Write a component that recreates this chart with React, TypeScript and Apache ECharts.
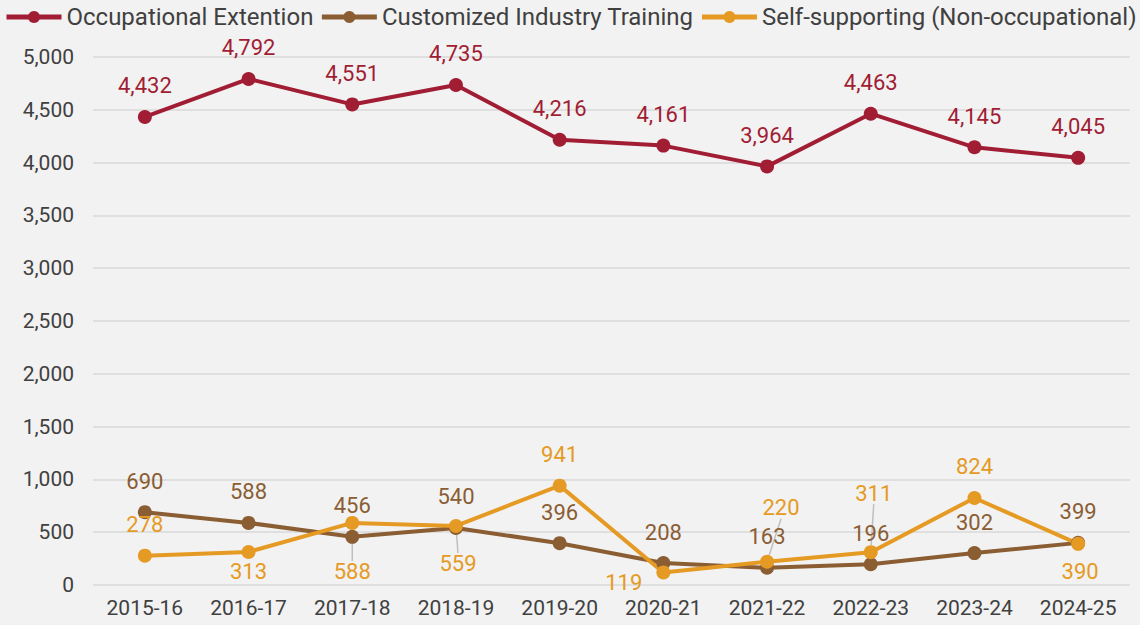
import React, { useEffect, useRef } from "react";
import * as echarts from "echarts";

const categories = ["2015-16", "2016-17", "2017-18", "2018-19", "2019-20", "2020-21", "2021-22", "2022-23", "2023-24", "2024-25"];
const occupational = [4432, 4792, 4551, 4735, 4216, 4161, 3964, 4463, 4145, 4045];
const customized = [690, 588, 456, 540, 396, 208, 163, 196, 302, 399];
const selfSupporting = [278, 313, 588, 559, 941, 119, 220, 311, 824, 390];
const yTicks = [0, 500, 1000, 1500, 2000, 2500, 3000, 3500, 4000, 4500, 5000];

const names = ["Occupational Extention", "Customized Industry Training", "Self-supporting (Non-occupational)"];
const colors = ["#A11D34", "#8A5D33", "#E59A24"];

// label placement for self-supporting points: [position, dx, dy, leaderLine]
const selfPlacement: [string, number, number, boolean][] = [
  ["top", 0, 0, false],
  ["bottom", 0, -2, false],
  ["bottom", 0, 27, true],
  ["bottom", 2, 16, true],
  ["top", 0, 0, false],
  ["left", -10, 10, false],
  ["top", 14, -23, true],
  ["top", 3, -28, true],
  ["top", 0, 0, false],
  ["bottom", 2, 6, false],
];

const FONT = "Roboto, 'Liberation Sans', Arial, sans-serif";
const fmt = (v: number) => v.toLocaleString("en-US");

export default function App() {
  const ref = useRef<HTMLDivElement>(null);
  useEffect(() => {
    if (!ref.current) return;
    const chart = echarts.init(ref.current, null, { renderer: "svg" });
    const mkSeries = (i: number, values: number[], placement?: [string, number, number, boolean][]) => ({
      name: names[i],
      type: "line",
      data: values.map((v, k) => {
        const p = placement ? placement[k] : null;
        return {
          value: v,
          label: p ? { position: p[0], distance: p[0] === "top" ? 13 : 4 } : undefined,
          labelLine: p && p[3] ? { show: true, lineStyle: { color: "#BFBFBF", width: 1.5 } } : { show: false },
        };
      }),
      symbol: "circle",
      symbolSize: 14,
      lineStyle: { width: 4, color: colors[i] },
      itemStyle: { color: colors[i] },
      label: {
        show: true,
        position: "top",
        distance: 13,
        color: colors[i],
        fontSize: 22,
        fontFamily: FONT,
        formatter: (p: any) => fmt(p.value),
      },
      labelLayout: placement
        ? (params: any) => {
            const p = placement[params.dataIndex];
            return { dx: p[1], dy: p[2] };
          }
        : undefined,
    });
    chart.setOption({
      animation: false,
      backgroundColor: "#F2F2F2",
      textStyle: { fontFamily: FONT },
      legend: {
        top: 5,
        left: 4,
        width: 1600,
        padding: 0,
        itemWidth: 55,
        itemHeight: 15,
        itemGap: 6,
        lineStyle: { width: 5 },
        textStyle: { fontSize: 24, color: "#404040", fontFamily: FONT },
        data: names,
      },
      grid: { left: 93, right: 10, top: 57, bottom: 40 },
      xAxis: {
        type: "category",
        data: categories,
        boundaryGap: true,
        axisLine: { show: false },
        axisTick: { show: false },
        axisLabel: { fontSize: 21, color: "#404040", fontFamily: FONT, margin: 12 },
      },
      yAxis: {
        type: "value",
        min: yTicks[0],
        max: yTicks[yTicks.length - 1],
        interval: 500,
        axisLine: { show: false },
        axisTick: { show: false },
        splitLine: { lineStyle: { color: "#D9D9D9", width: 1.5 } },
        axisLabel: { fontSize: 21, color: "#404040", fontFamily: FONT, margin: 19, formatter: (v: number) => fmt(v) },
      },
      series: [
        mkSeries(0, occupational),
        mkSeries(1, customized),
        mkSeries(2, selfSupporting, selfPlacement),
      ],
    });
    return () => chart.dispose();
  }, []);
  return <div ref={ref} style={{ width: 1140, height: 625, position: "absolute", left: 0, top: 0 }} />;
}
